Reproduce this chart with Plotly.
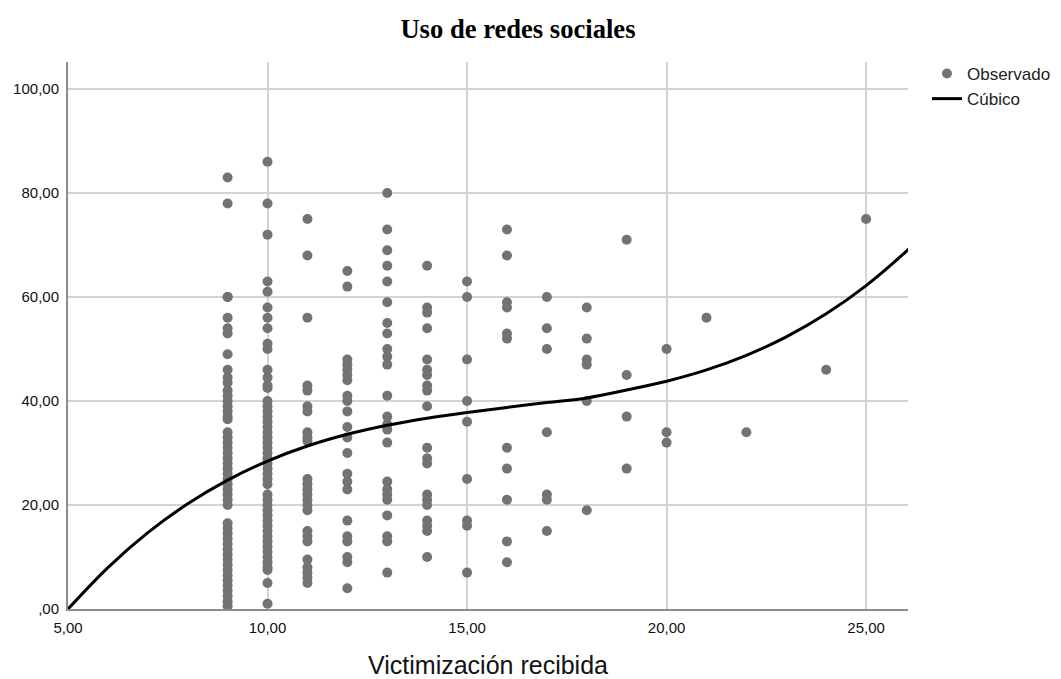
import plotly.graph_objects as go

# ---- Observed data (Victimización recibida -> Uso de redes sociales) ----
obs_9 = [83, 78, 60, 60, 56, 54, 53, 49, 46, 44.5, 43.5, 42, 41, 40, 39, 38, 37, 36.5,
         34, 33, 32, 31, 30, 29, 28, 27, 26, 25, 24, 23, 22, 21, 20,
         16.5, 15.5, 14.5, 13.5, 12.5, 11.5, 10.5, 9.5, 8.5, 7.5, 6.5, 5.5, 4.5, 3.5, 2.5, 1.5, 0.6]
obs_10 = [86, 78, 72, 63, 61, 58, 56, 54, 51, 50, 46, 44.5, 43, 42.5,
          40, 39, 38, 37, 36, 35, 34, 33, 32, 31, 30, 29, 28, 27, 26, 25, 24,
          22, 21, 20, 19, 18, 17, 16, 15, 14, 13, 12, 11, 10, 9, 8, 7.5, 5, 1]
obs_11 = [75, 68, 56, 43, 42, 39, 38, 34, 33, 32.3, 25, 24, 23, 22, 21, 20, 19,
          15, 14, 13, 9.5, 8, 7, 6, 5]
obs_12 = [65, 62, 48, 47, 46, 45, 44, 41, 40, 38, 35, 33, 30, 26, 24.5, 23, 17, 14, 13, 10, 9, 4]
obs_13 = [80, 73, 69, 66, 63, 59, 55, 53, 50, 48.5, 47, 41, 37, 35.5, 34.5, 32,
          24.5, 23, 22, 21, 18, 14, 13, 7]
obs_14 = [66, 58, 57, 54, 48, 46, 45, 43, 42, 39, 31, 29, 28, 22, 21, 20, 17, 16, 15, 10]
obs_15 = [63, 60, 48, 40, 36, 25, 17, 16, 7]
obs_16 = [73, 68, 59, 58, 53, 52, 31, 27, 21, 13, 9]
obs_17 = [60, 54, 50, 34, 22, 21, 15]
obs_18 = [58, 52, 48, 47, 40, 19]
obs_19 = [71, 45, 37, 27]
obs_20 = [50, 34, 32]
obs_21 = [56]
obs_22 = [34]
obs_24 = [46]
obs_25 = [75]

columns = [(9, obs_9), (10, obs_10), (11, obs_11), (12, obs_12), (13, obs_13),
           (14, obs_14), (15, obs_15), (16, obs_16), (17, obs_17), (18, obs_18),
           (19, obs_19), (20, obs_20), (21, obs_21), (22, obs_22), (24, obs_24),
           (25, obs_25)]

# ---- Cubic fit curve ----
curve_x = [5, 6, 7, 8, 9, 10, 11, 12, 13, 14, 15, 16, 17, 18, 19, 20, 21, 22, 23, 24, 25, 26, 26.1]
curve_y = [0.0, 7.97, 14.68, 20.24, 24.79, 28.45, 31.34, 33.6, 35.34, 36.7, 37.8, 38.76,
           39.72, 40.6, 42.11, 43.8, 45.98, 48.79, 52.34, 56.77, 62.2, 68.75, 69.5]

# ---- Tick labels ----
x_ticks = [5, 10, 15, 20, 25]
x_tick_text = ["5,00", "10,00", "15,00", "20,00", "25,00"]
y_ticks = [0, 20, 40, 60, 80, 100]
y_tick_text = [",00", "20,00", "40,00", "60,00", "80,00", "100,00"]

xs, ys = [], []
for xv, vals in columns:
    for v in vals:
        xs.append(xv)
        ys.append(v)

fig = go.Figure()
fig.add_trace(go.Scatter(
    x=xs, y=ys, mode="markers", name="Observado",
    marker=dict(color="#737373", size=10, line=dict(width=0)),
))
fig.add_trace(go.Scatter(
    x=curve_x, y=curve_y, mode="lines", name="Cúbico",
    line=dict(color="black", width=3, shape="spline"),
))

sans = "Liberation Sans, Arial, sans-serif"
fig.update_layout(
    width=1053, height=671,
    margin=dict(l=60, r=153, t=54, b=70, autoexpand=False),
    paper_bgcolor="white", plot_bgcolor="white",
    title=dict(text="<b>Uso de redes sociales</b>", x=0.4843, xanchor="center",
               y=0.9687, yanchor="middle", automargin=False,
               font=dict(family="Liberation Serif, Times New Roman, serif", size=26.6, color="black")),
    showlegend=True,
    legend=dict(x=1.0226, y=1.011, xanchor="left", yanchor="top",
                font=dict(family=sans, size=17, color="#222222"),
                bgcolor="rgba(0,0,0,0)", tracegroupgap=0),
    font=dict(family=sans, color="#222222"),
)
fig.update_xaxes(
    range=[5, 26.05], tickvals=x_ticks, ticktext=x_tick_text, automargin=False,
    showgrid=True, gridcolor="#d3d3d3", gridwidth=2,
    showline=True, linecolor="#8c8c8c", linewidth=2, zeroline=False,
    ticks="outside", ticklen=4, tickcolor="rgba(0,0,0,0)",
    tickfont=dict(family=sans, size=15, color="#111111"),
    title=dict(text="Victimización recibida", standoff=23,
               font=dict(family=sans, size=25, color="#111111")),
)
fig.update_yaxes(
    range=[0, 105.2], tickvals=y_ticks, ticktext=y_tick_text, automargin=False,
    showgrid=True, gridcolor="#d3d3d3", gridwidth=2,
    showline=True, linecolor="#8c8c8c", linewidth=2, zeroline=False,
    ticks="outside", ticklen=4, tickcolor="rgba(0,0,0,0)",
    tickfont=dict(family=sans, size=15, color="#111111"),
)

fig.write_html("out.html")
